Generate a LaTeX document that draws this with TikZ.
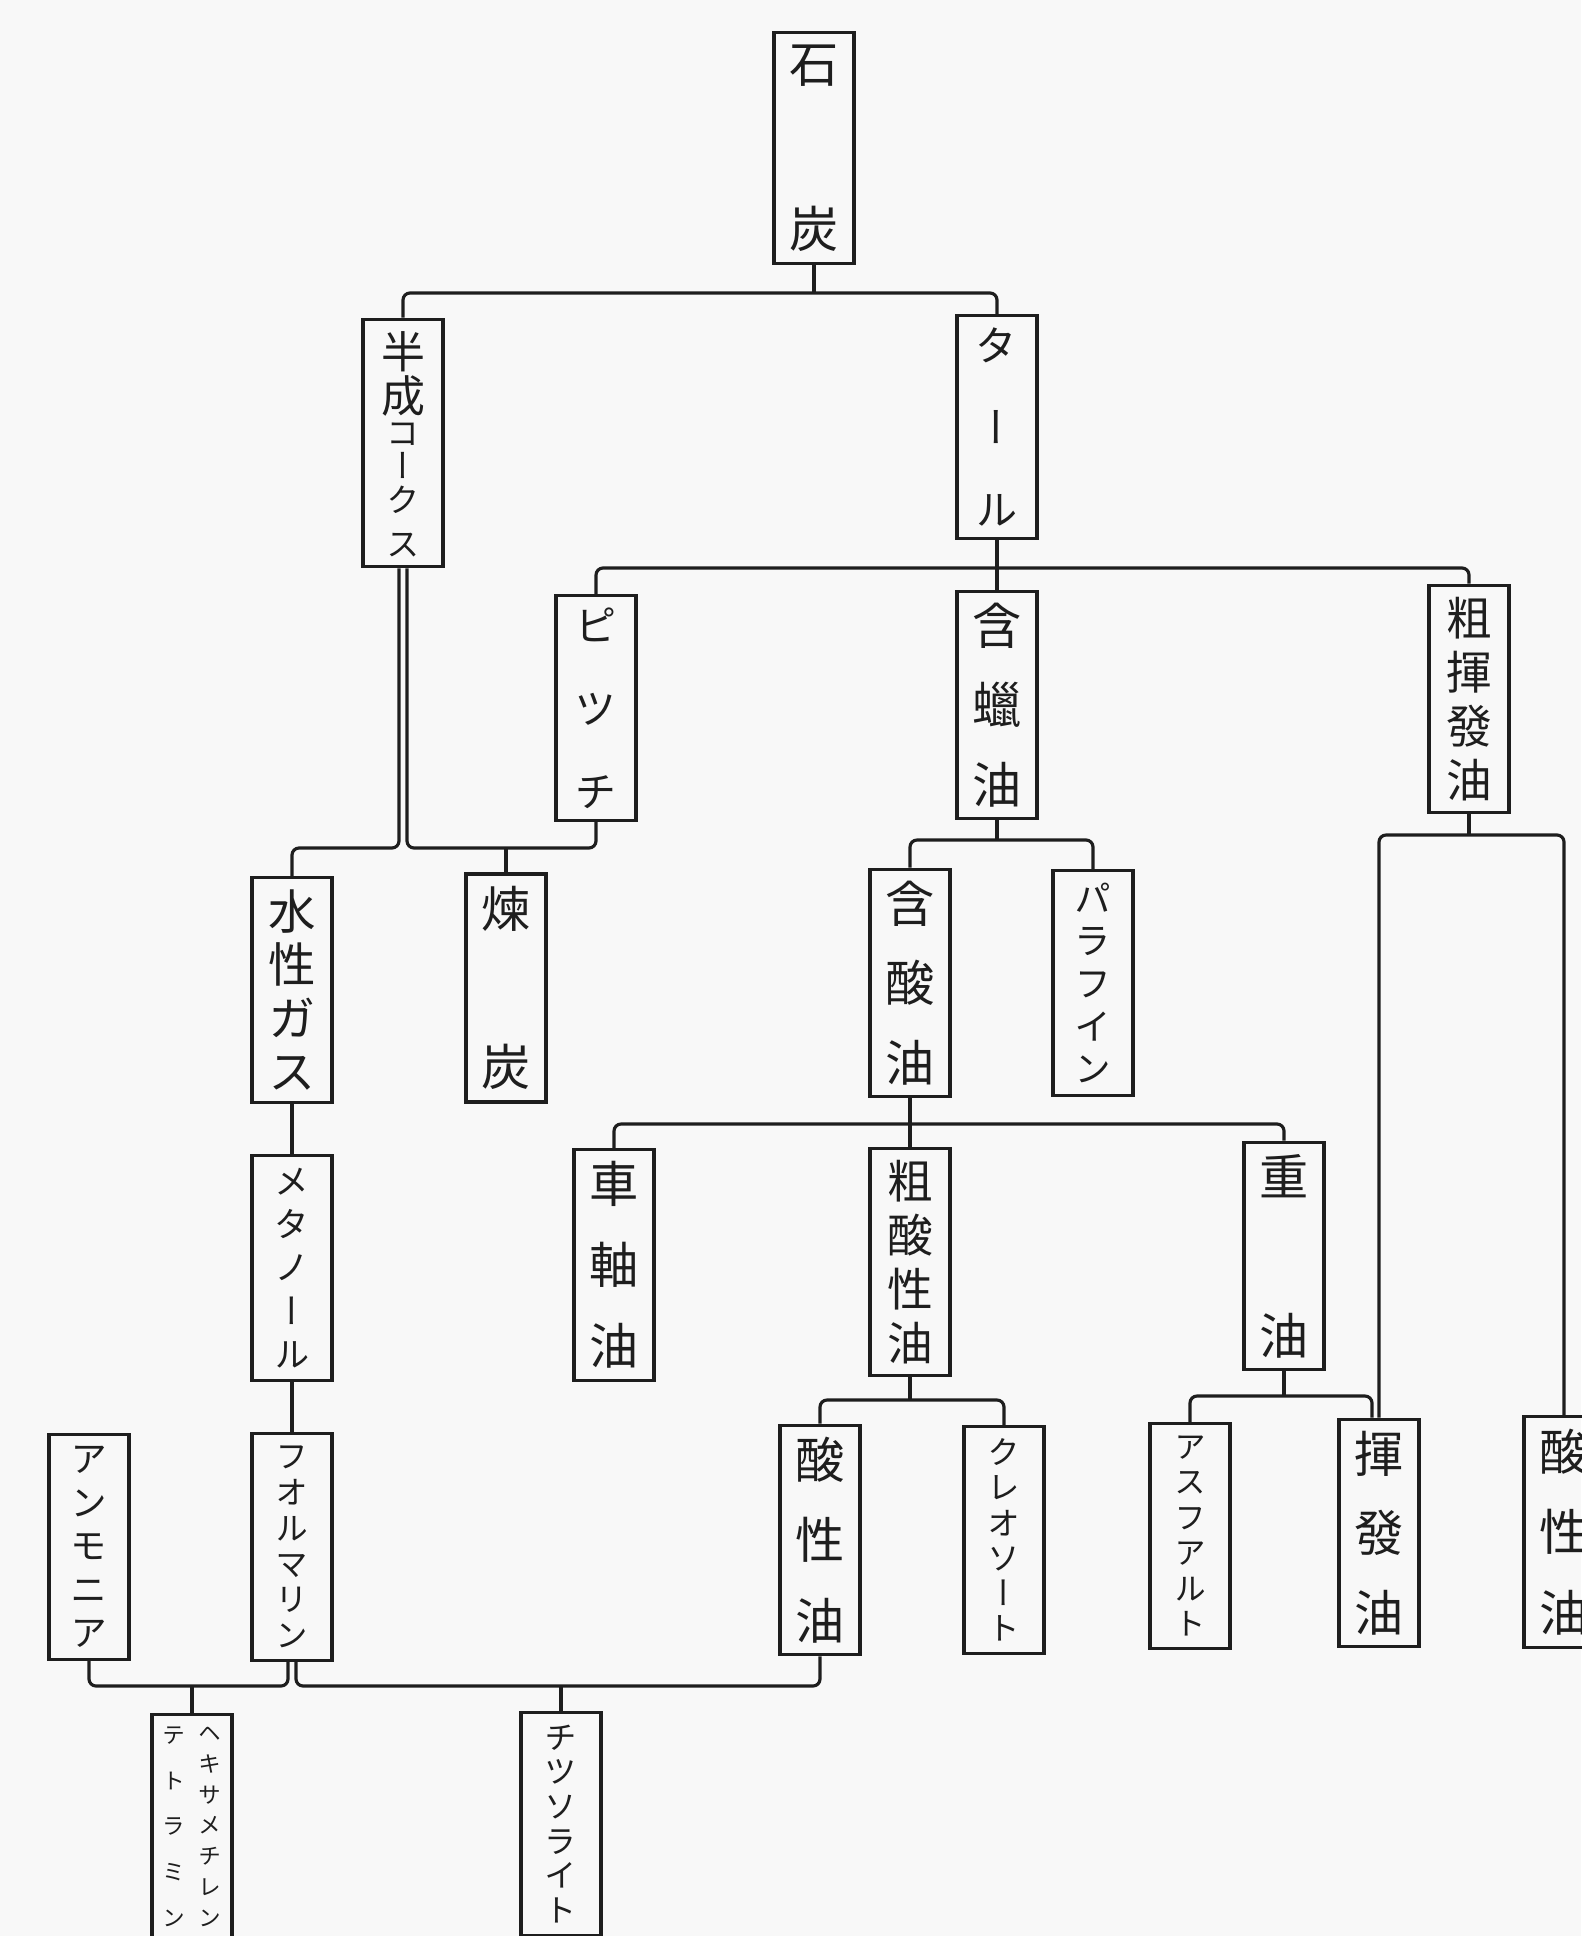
\documentclass[tikz,border=0pt]{standalone}
\usepackage{fontspec}
\newfontfamily\jp[RawFeature=+vert]{Noto Sans CJK JP}
\definecolor{paper}{RGB}{248, 248, 248}
\definecolor{ink}{RGB}{30, 30, 30}
\newcommand{\vgap}{\par\vfill}
\newcommand{\vcol}[2][20mm]{\parbox[c][#1][s]{7.4mm}{\centering #2}}

\begin{document}
\begin{tikzpicture}[x=0.1mm, y=-0.1mm,
			item/.style={draw=ink, text=ink, line width=0.9pt, minimum width=8mm, inner xsep=0pt, inner ysep=1.2mm, font=\jp\fontsize{14}{14}\selectfont},
			link/.style={draw=ink, line width=0.9pt, rounded corners=2pt}
			]
			% Page
			\fill[paper] (0,0) rectangle (1581,1936);
			\useasboundingbox (0,0) rectangle (1581,1936);
			
			% Row 1-2
			\node[item] (sekitan) at (814,148) {\vcol[20.3mm]{石\vgap 炭}};
			\node[item, font=\jp\fontsize{12.5}{12.5}\selectfont] (hansei) at (403,443) {\vcol[22.3mm]{半\vgap 成\vgap{\fontsize{9.5}{9.5}\selectfont コ\vgap ー\vgap ク\vgap ス}}};
			\node[item, font=\jp\fontsize{12}{12}\selectfont] (tar) at (997,427) {\vcol[19.8mm]{タ\vgap ー\vgap ル}};
			
			% Row 3
			\node[item, font=\jp\fontsize{12}{12}\selectfont] (pitch) at (596,708) {\vcol{ピ\vgap ツ\vgap チ}};
			\node[item] (ganrou) at (997,705) {\vcol{含\vgap 蠟\vgap 油}};
			\node[item, font=\jp\fontsize{13}{13}\selectfont] (sokihatsu) at (1469,699) {\vcol{粗\vgap 揮\vgap 發\vgap 油}};
			
			% Row 4
			\node[item, font=\jp\fontsize{13.5}{13.5}\selectfont] (suisei) at (292,990) {\vcol{水\vgap 性\vgap ガ\vgap ス}};
			\node[item] (rentan) at (506,988) {\vcol{煉\vgap 炭}};
			\node[item] (gansan) at (910,983) {\vcol{含\vgap 酸\vgap 油}};
			\node[item, font=\jp\fontsize{10.5}{10.5}\selectfont] (paraffin) at (1093,983) {\vcol{パ\vgap ラ\vgap フ\vgap イ\vgap ン}};
			
			% Row 5
			\node[item, font=\jp\fontsize{10}{10}\selectfont] (methanol) at (292,1268) {\vcol{メ\vgap タ\vgap ノ\vgap ー\vgap ル}};
			\node[item] (shajiku) at (614,1265) {\vcol[20.3mm]{車\vgap 軸\vgap 油}};
			\node[item, font=\jp\fontsize{13}{13}\selectfont] (sosansei) at (910,1262) {\vcol{粗\vgap 酸\vgap 性\vgap 油}};
			\node[item] (juyu) at (1284,1256) {\vcol{重\vgap 油}};
			
			% Row 6
			\node[item, font=\jp\fontsize{10.5}{10.5}\selectfont] (ammonia) at (89,1547) {\vcol{ア\vgap ン\vgap モ\vgap ニ\vgap ア}};
			\node[item, font=\jp\fontsize{9.3}{9.3}\selectfont] (formalin) at (292,1547) {\vcol[20.2mm]{フ\vgap オ\vgap ル\vgap マ\vgap リ\vgap ン}};
			\node[item] (sansei) at (820,1540) {\vcol[20.2mm]{酸\vgap 性\vgap 油}};
			\node[item, font=\jp\fontsize{9.3}{9.3}\selectfont] (creosote) at (1004,1540) {\vcol[20.2mm]{ク\vgap レ\vgap オ\vgap ソ\vgap ー\vgap ト}};
			\node[item, font=\jp\fontsize{9}{9}\selectfont] (asphalt) at (1190,1536) {\vcol{ア\vgap ス\vgap フ\vgap ア\vgap ル\vgap ト}};
			\node[item] (kihatsu) at (1379,1533) {\vcol{揮\vgap 發\vgap 油}};
			\node[item] (sanseiR) at (1564,1532) {\vcol[20.3mm]{酸\vgap 性\vgap 油}};
			
			% Row 7
			\node[item, anchor=north, font=\jp\fontsize{6.5}{6.5}\selectfont] (hexa) at (192,1713) {\parbox[c][20mm][s]{3.6mm}{\centering テ\vgap ト\vgap ラ\vgap ミ\vgap ン}%
				\parbox[c][20mm][s]{3.6mm}{\centering ヘ\vgap キ\vgap サ\vgap メ\vgap チ\vgap レ\vgap ン}};
			\node[item, anchor=north, font=\jp\fontsize{9.2}{9.2}\selectfont] (chitsu) at (561,1711) {\vcol[19.8mm]{チ\vgap ツ\vgap ソ\vgap ラ\vgap イ\vgap ト}};
			
			% Connections
			\coordinate (j1) at (814,293);
			\draw[link] (sekitan.south) -- (j1);
			\draw[link] (hansei.north) |- (j1) -| (tar.north);
			
			\coordinate (j2) at (997,568);
			\draw[link] (tar.south) -- (ganrou.north);
			\draw[link] (pitch.north) |- (j2) -| (sokihatsu.north);
			
			\coordinate (j3) at (403,848);
			\draw[link] ([xshift=-0.4mm]hansei.south) -- ([xshift=-0.4mm]j3) -| (suisei.north);
			\draw[link] ([xshift=0.4mm]hansei.south) -- ([xshift=0.4mm]j3) -| (pitch.south);
			\draw[link] (rentan.north) -- (rentan.north |- j3);
			
			\coordinate (j4) at (997,840);
			\draw[link] (ganrou.south) -- (j4);
			\draw[link] (gansan.north) |- (j4) -| (paraffin.north);
			
			\coordinate (j5) at (1469,835);
			\draw[link] (sokihatsu.south) -- (j5);
			\draw[link] (kihatsu.north) |- (j5) -| (sanseiR.north);
			
			\coordinate (j6) at (910,1124);
			\draw[link] (gansan.south) -- (sosansei.north);
			\draw[link] (shajiku.north) |- (j6) -| (juyu.north);
			
			\draw[link] (suisei.south) -- (methanol.north);
			\draw[link] (methanol.south) -- (formalin.north);
			
			\coordinate (j7) at (910,1400);
			\draw[link] (sosansei.south) -- (j7);
			\draw[link] (sansei.north) |- (j7) -| (creosote.north);
			
			\coordinate (j8) at (1284,1396);
			\draw[link] (juyu.south) -- (j8);
			\draw[link] (asphalt.north) |- (j8) -| ([xshift=-0.7mm]kihatsu.north);
			
			\coordinate (j9) at (292,1686);
			\draw[link] ([xshift=-0.4mm]formalin.south) -- ([xshift=-0.4mm]j9) -| (ammonia.south);
			\draw[link] ([xshift=0.4mm]formalin.south) -- ([xshift=0.4mm]j9) -| (sansei.south);
			\draw[link] (hexa.north) -- (hexa.north |- j9);
			\draw[link] (chitsu.north) -- (chitsu.north |- j9);
		\end{tikzpicture}
\end{document}
